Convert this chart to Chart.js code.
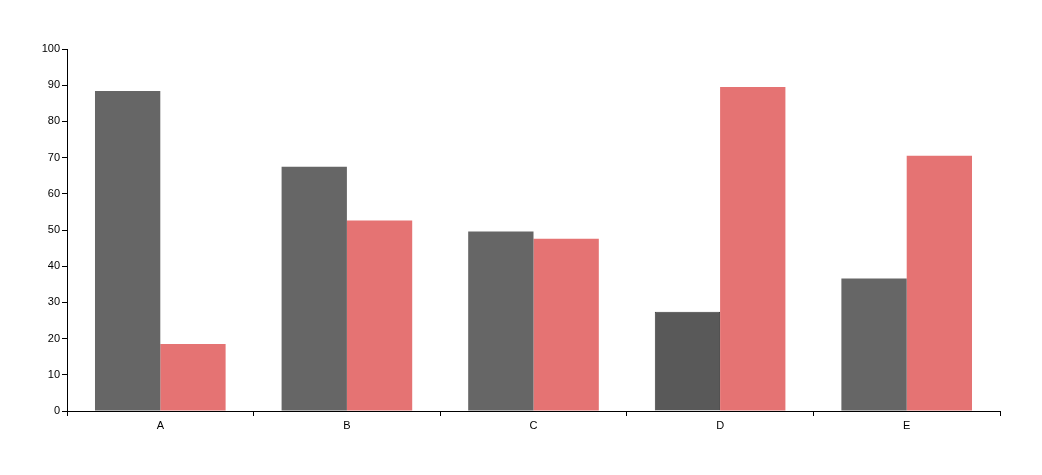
<!DOCTYPE html>
<html><head><meta charset="utf-8">
<script src="https://cdn.jsdelivr.net/npm/chart.js@4/dist/chart.umd.min.js"></script>
<style>html,body{margin:0;padding:0;background:#fff}#wrap{width:1042px;height:475px}</style>
</head><body><div id="wrap"><canvas id="c" width="1042" height="475"></canvas></div>
<script>
const categories = ['A','B','C','D','E'];
const series1 = [88.4, 67.5, 49.6, 27.4, 36.6];
const series2 = [18.5, 52.6, 47.6, 89.5, 70.5];
const yTicks = [0,10,20,30,40,50,60,70,80,90,100];

const dark = '#666666', darkHover = '#595959', red = '#e57373';
const c1 = categories.map((_, i) => i === 3 ? darkHover : dark);
const b1 = categories.map((_, i) => i === 3 ? '#3f3f3f' : dark);
const bw1 = categories.map((_, i) => i === 3 ? 1 : 0);

new Chart(document.getElementById('c'), {
  type: 'bar',
  data: {
    labels: categories,
    datasets: [
      { data: series1, backgroundColor: c1, borderColor: b1, borderWidth: bw1, categoryPercentage: 0.7, barPercentage: 1.0 },
      { data: series2, backgroundColor: red, borderWidth: 0, categoryPercentage: 0.7, barPercentage: 1.0 }
    ]
  },
  options: {
    responsive: false, animation: false,
    layout: { padding: { left: 0, right: 42, top: 49, bottom: 0 } },
    plugins: { legend: { display: false }, tooltip: { enabled: false } },
    scales: {
      x: {
        grid: { display: true, drawOnChartArea: false, tickLength: 5, color: '#000', tickColor: '#000', offset: true },
        border: { color: '#000', width: 1 },
        ticks: { color: '#000', font: { family: 'Liberation Sans, Arial', size: 11 }, padding: 3 },
        afterFit: s => { s.height = 64; }
      },
      y: {
        min: 0, max: 100,
        afterBuildTicks: s => { s.ticks = yTicks.map(v => ({ value: v })); },
        grid: { display: true, drawOnChartArea: false, tickLength: 5, color: '#000', tickColor: '#000' },
        border: { color: '#000', width: 1 },
        ticks: { color: '#000', font: { family: 'Liberation Sans, Arial', size: 11 }, padding: 2 },
        afterFit: s => { s.width = 67; }
      }
    }
  }
});
</script></body></html>
